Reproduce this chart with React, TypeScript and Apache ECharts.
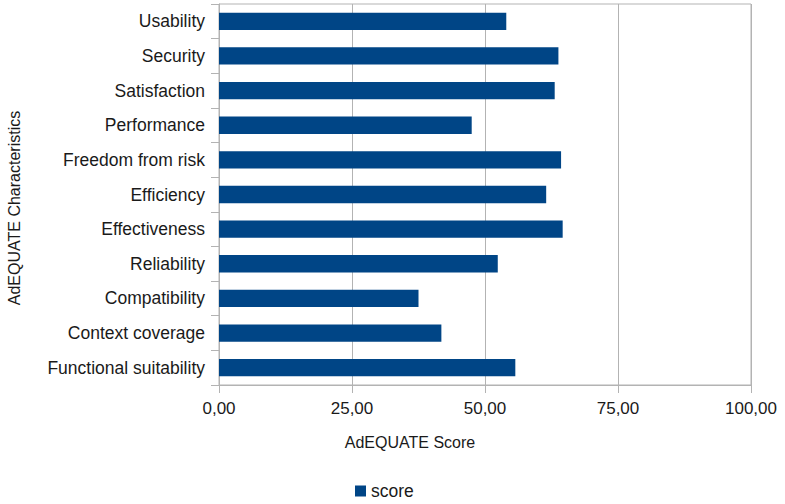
import React, { useEffect, useRef } from "react";
import * as echarts from "echarts";

const categories = [
  "Usability",
  "Security",
  "Satisfaction",
  "Performance",
  "Freedom from risk",
  "Efficiency",
  "Effectiveness",
  "Reliability",
  "Compatibility",
  "Context coverage",
  "Functional suitability",
];
const scores = [54.0, 63.8, 63.1, 47.5, 64.3, 61.5, 64.6, 52.4, 37.5, 41.8, 55.7];
const seriesName = "score";
const xTitle = "AdEQUATE Score";
const yTitle = "AdEQUATE Characteristics";

export default function App() {
  const ref = useRef<HTMLDivElement>(null);
  useEffect(() => {
    if (!ref.current) return;
    const chart = echarts.init(ref.current, null, { renderer: "svg" });
    const font = "'Liberation Sans', Arial, sans-serif";
    const txt = "#1a1a1a";
    chart.setOption({
      animation: false,
      textStyle: { fontFamily: font },
      grid: {
        left: 219,
        right: 34,
        top: 4,
        bottom: 119,
        show: true,
        borderColor: "#b3b3b3",
        borderWidth: 1,
        containLabel: false,
        outerBoundsMode: "none",
      },
      legend: {
        data: [seriesName],
        left: 355,
        top: 482,
        icon: "rect",
        itemWidth: 11,
        itemHeight: 11,
        itemGap: 5,
        padding: 0,
        textStyle: { fontFamily: font, fontSize: 17.5, color: txt },
      },
      graphic: [
        {
          type: "text",
          x: 14,
          y: 208,
          rotation: Math.PI / 2,
          style: {
            text: yTitle,
            fontFamily: font,
            fontSize: 16,
            fill: txt,
            textAlign: "center",
            textVerticalAlign: "middle",
          },
        },
        {
          type: "text",
          x: 410,
          y: 442,
          style: {
            text: xTitle,
            fontFamily: font,
            fontSize: 16,
            fill: txt,
            textAlign: "center",
            textVerticalAlign: "middle",
          },
        },
      ],
      xAxis: {
        type: "value",
        min: 0,
        max: 100,
        interval: 25,
        axisLine: { show: true, lineStyle: { color: "#b3b3b3" } },
        axisTick: { show: true, length: 8, lineStyle: { color: "#b3b3b3" } },
        splitLine: { show: true, lineStyle: { color: "#b3b3b3" } },
        axisLabel: {
          fontFamily: font,
          fontSize: 17,
          color: txt,
          margin: 15,
          formatter: (v: number) => v.toFixed(2).replace(".", ","),
        },
      },
      yAxis: {
        type: "category",
        data: categories,
        inverse: true,
        axisLine: { show: true, lineStyle: { color: "#b3b3b3" } },
        axisTick: { show: true, length: 8, lineStyle: { color: "#b3b3b3" } },
        splitLine: { show: false },
        axisLabel: { fontFamily: font, fontSize: 17.5, color: txt, margin: 14 },
      },
      series: [
        {
          name: seriesName,
          type: "bar",
          data: scores,
          barWidth: "50%",
          itemStyle: { color: "#004586" },
        },
      ],
    });
    return () => chart.dispose();
  }, []);
  return <div ref={ref} style={{ width: 785, height: 504, position: "absolute", left: 0, top: 0 }} />;
}
